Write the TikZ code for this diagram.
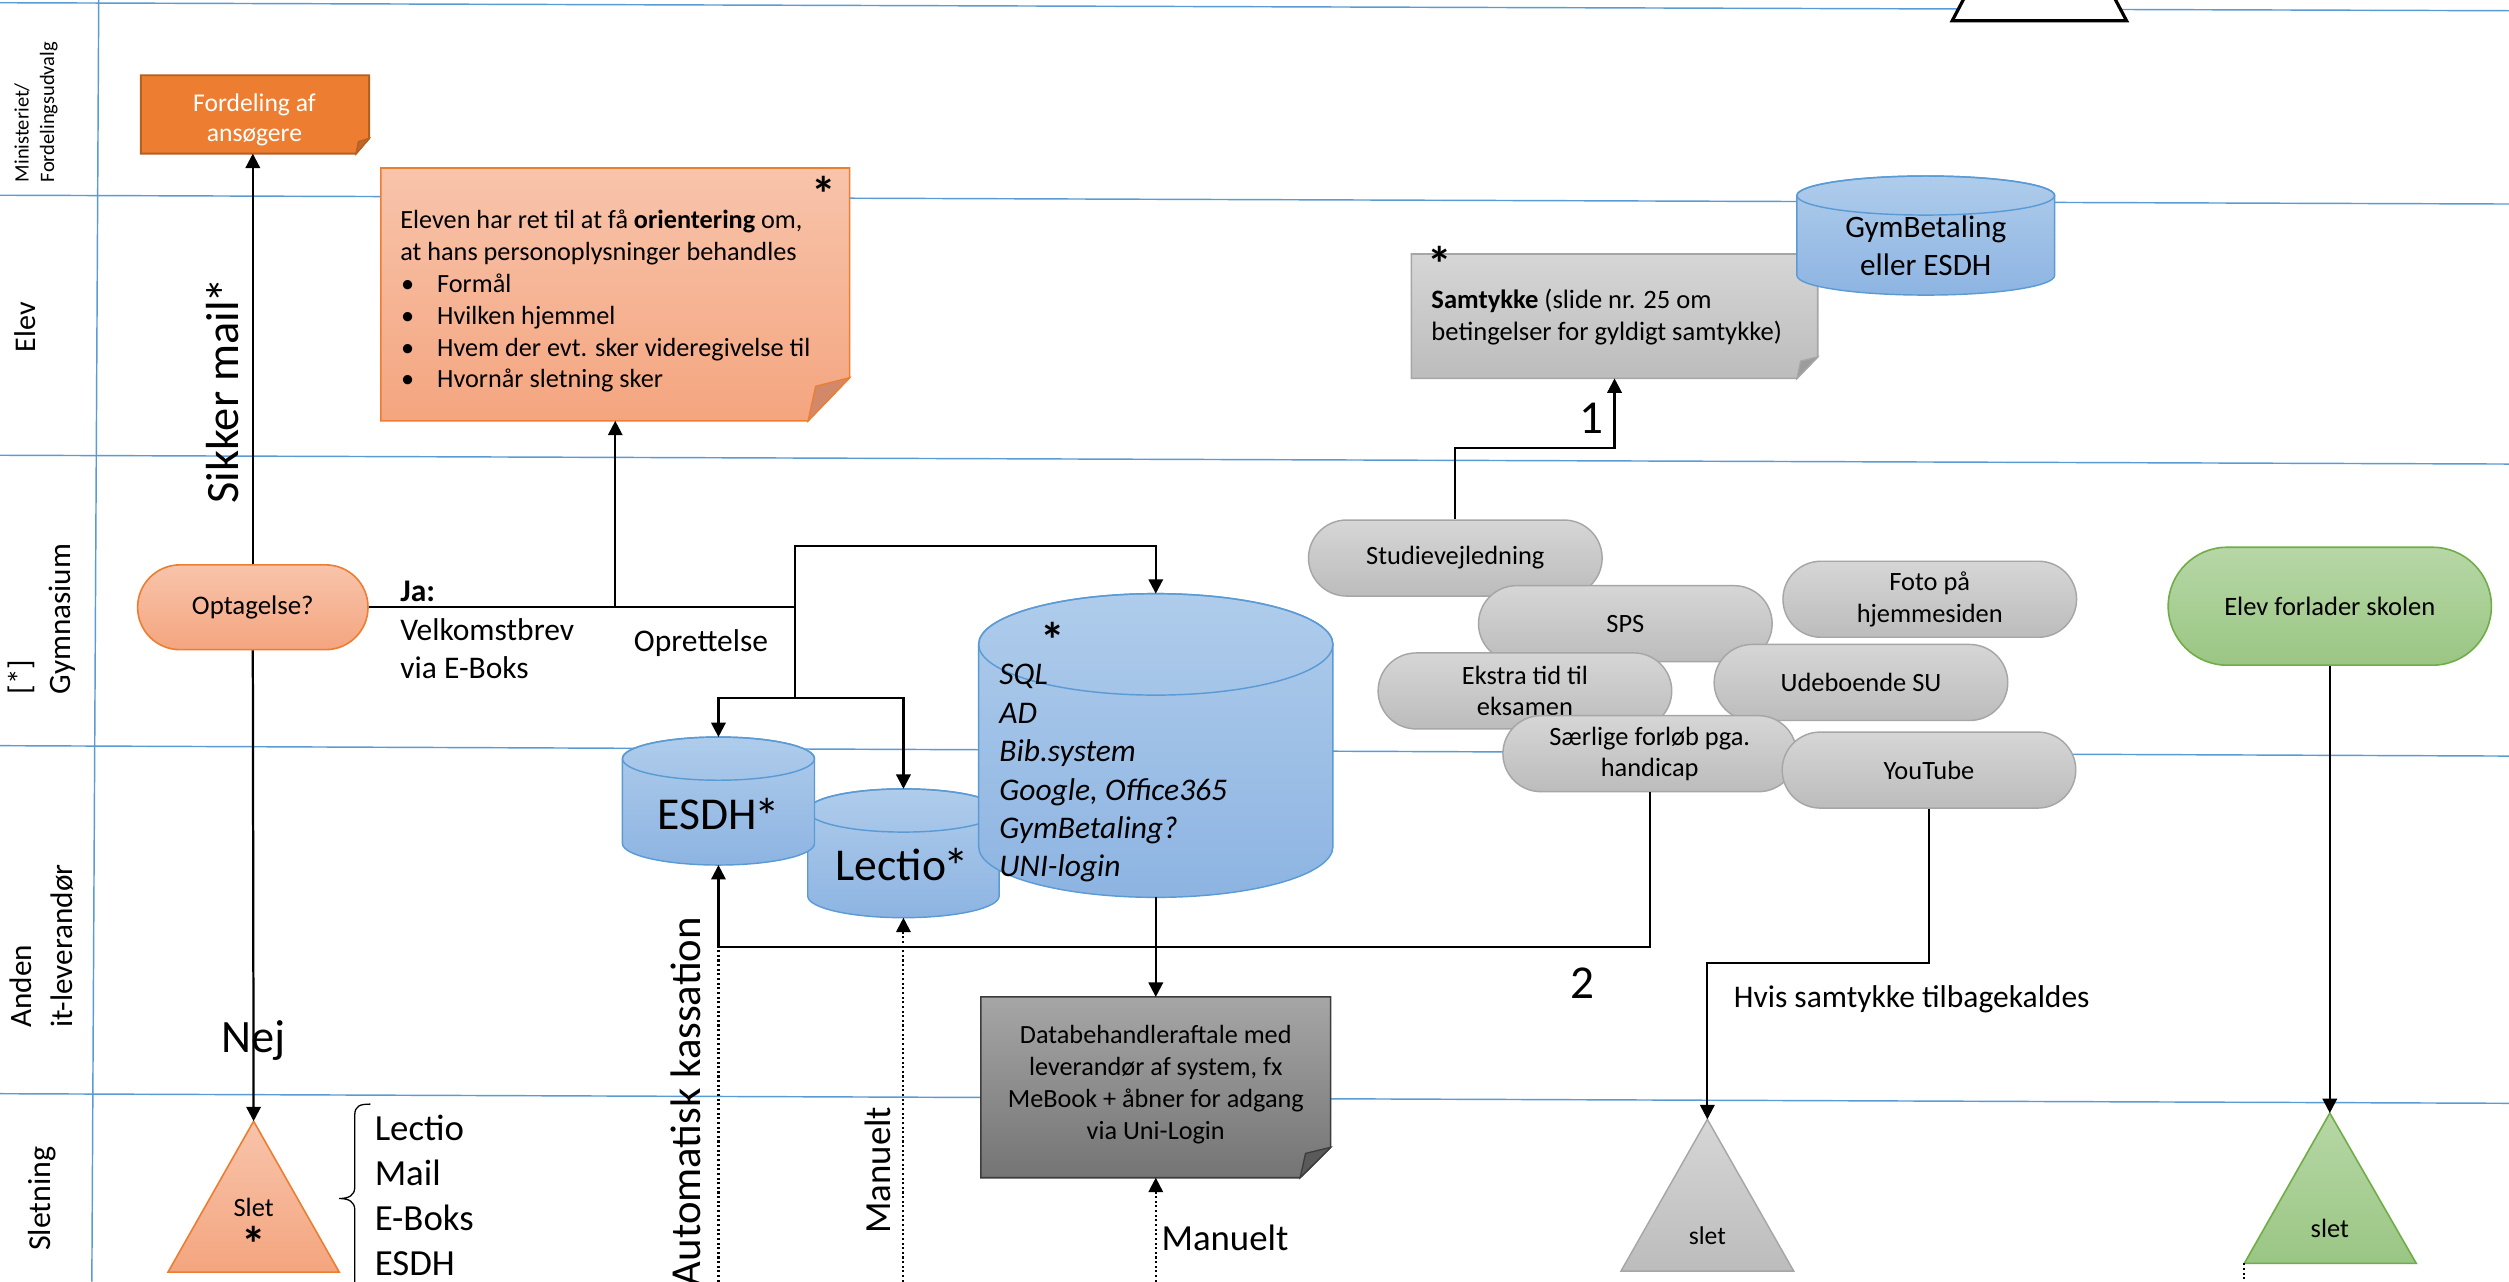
\documentclass[tikz,border=0pt]{standalone}
\usepackage{graphicx}
\usepackage{fontspec}
\setmainfont{Carlito}
\usetikzlibrary{arrows.meta,shapes.misc}
\definecolor{laneblue}{HTML}{5B9BD5}
\definecolor{orfill}{HTML}{ED7D31}
\definecolor{orborder}{HTML}{B4601F}
\definecolor{orfold}{HTML}{C0662A}
\definecolor{saltop}{HTML}{F8C4AB}
\definecolor{salbot}{HTML}{F4A57F}
\definecolor{salborder}{HTML}{ED7D31}
\definecolor{salfold}{HTML}{D2896A}
\definecolor{bltop}{HTML}{AFCCEB}
\definecolor{blbot}{HTML}{8DB4E2}
\definecolor{blborder}{HTML}{5B9BD5}
\definecolor{grtop}{HTML}{D6D6D6}
\definecolor{grbot}{HTML}{BCBCBC}
\definecolor{grborder}{HTML}{A6A6A6}
\definecolor{grfold}{HTML}{9C9C9C}
\definecolor{dbtop}{HTML}{A6A6A6}
\definecolor{dbbot}{HTML}{747474}
\definecolor{dbborder}{HTML}{3C3C3C}
\definecolor{dbfold}{HTML}{5A5A5A}
\definecolor{gntop}{HTML}{B7D7A6}
\definecolor{gnbot}{HTML}{9AC684}
\definecolor{gnborder}{HTML}{70AD47}
\newcommand{\bigast}{\kern-0.05em\raisebox{-0.1em}{\scalebox{1.12}{*}}}
\newcommand{\soloast}{\scalebox{1.4}{*}}
\tikzset{
  lane/.style={draw=laneblue, line width=0.9pt},
  conn/.style={draw=black, line width=1.4pt, -{Triangle[length=9pt,width=9pt]}},
  plainline/.style={draw=black, line width=1.4pt},
  dotconn/.style={draw=black, line width=1.3pt, dash pattern=on 1.3pt off 1.6pt, -{Triangle[length=9pt,width=9pt]}},
  dotline/.style={draw=black, line width=1.3pt, dash pattern=on 1.3pt off 1.6pt},
  tl/.style={inner sep=0, anchor=base west},
  tc/.style={inner sep=0, anchor=base},
  holder/.style={inner sep=0, outer sep=0},
  salmon/.style={top color=saltop, bottom color=salbot, draw=salborder, line width=1pt},
  greyish/.style={top color=grtop, bottom color=grbot, draw=grborder, line width=0.9pt},
  greenish/.style={top color=gntop, bottom color=gnbot, draw=gnborder, line width=1pt},
  cylfill/.style={top color=bltop, bottom color=blbot, draw=blborder, line width=0.9pt},
  cylline/.style={draw=blborder, line width=0.9pt},
  pill/.style={rounded rectangle, greyish, minimum width=183.5pt, minimum height=47.5pt, inner sep=0, align=center, font=\fontsize{16.5}{19.6}\selectfont},
  fa/.style={font=\fontsize{16.4}{20}\selectfont},
  fb/.style={font=\fontsize{19.7}{24}\selectfont},
  fbig/.style={font=\fontsize{29}{34}\selectfont},
  fstar/.style={font=\bfseries\fontsize{22}{22}\selectfont, inner sep=0},
}
\newcommand{\cyl}[5]{%
  \path[cylfill] (#1,#3+#5) -- (#1,#4-#5)
    arc[start angle=180,end angle=0,x radius={(#2-#1)/2},y radius=#5]
    -- (#2,#3+#5)
    arc[start angle=0,end angle=-180,x radius={(#2-#1)/2},y radius=#5] -- cycle;
  \draw[cylline] ({(#1+#2)/2},#3+#5) ellipse[x radius={(#2-#1)/2}, y radius=#5];
}
\begin{document}
\begin{tikzpicture}[x=1pt,y=-1pt]
\useasboundingbox (0,0) rectangle (1568,801);
\clip (0,0) rectangle (1568,801);
\fill[white] (0,0) rectangle (1568,801);

% swim lanes
\draw[lane] (0,1.7) -- (1568,6.7);
\draw[lane] (0,122) -- (1568,127.5);
\draw[lane] (0,284.5) -- (1568,290);
\draw[lane] (0,466) -- (1568,472.5);
\draw[lane] (0,683.5) -- (1568,689.5);
\draw[lane] (61.7,0) -- (57.4,801);

% lane labels
\node[rotate=90, anchor=west, align=left, inner sep=0, font=\fontsize{12.8}{16}\selectfont] (lminist) at (22.5,114) {Ministeriet/\\Fordelingsudvalg};
\node[rotate=90, inner sep=0, font=\fontsize{18.8}{22}\selectfont] (lelev) at (15.6,204.5) {Elev};
\node[rotate=90, anchor=west, align=left, inner sep=0, font=\fontsize{19.5}{25}\selectfont] (lgym) at (26,434) {[*]\\Gymnasium};
\node[rotate=90, anchor=west, align=left, inner sep=0, font=\fontsize{19.5}{26}\selectfont] (landen) at (26,642.5) {Anden\\it-leverandør};
\node[rotate=90, inner sep=0, font=\fontsize{20}{24}\selectfont] (lslet) at (26.5,749) {Sletning};

% top white triangle (cut off)
\coordinate (toptriL) at (1220,13);
\coordinate (toptriR) at (1329,13);
\coordinate (toptriA) at (1274.5,-90);
\path[fill=white, draw=black, line width=2pt] (toptriL) -- (toptriR) -- (toptriA) -- cycle;

% Fordeling af ansoegere
\node[holder, minimum width=142.7pt, minimum height=49pt] (fordeling) at (159.35,71.5) {};
\path[fill=orfill, draw=orborder, line width=1.2pt] (88,47) -- (230.7,47) -- (230.7,86.5) -- (222.5,96) -- (88,96) -- cycle;
\path[fill=orfold, draw=orborder, line width=0.8pt] (230.7,86.5) -- (222.5,96) -- (224,88.5) -- cycle;
\node[tc, text=white, font=\fontsize{16}{19}\selectfont] (fordt1) at (159,69.8) {Fordeling af};
\node[tc, text=white, font=\fontsize{16}{19}\selectfont] (fordt2) at (159,88.5) {ansøgere};

% Orange note
\node[holder, minimum width=293pt, minimum height=158pt] (note) at (384.5,184) {};
\path[salmon] (238,105) -- (531,105) -- (531,236) -- (505,263) -- (238,263) -- cycle;
\path[fill=salfold, draw=salborder, line width=0.8pt] (531,236) -- (505,263) -- (509.7,241.4) -- cycle;
\node[fstar] (notestar) at (515,121) {\soloast};
\node[tl, fa] (n1) at (250,142.6) {Eleven har ret til at få \textbf{orientering} om,};
\node[tl, fa] (n2) at (250,162.6) {at hans personoplysninger behandles};
\node[tl, fa] (n3b) at (250.5,182.6) {•};
\node[tl, fa] (n3) at (273,182.6) {Formål};
\node[tl, fa] (n4b) at (250.5,202.5) {•};
\node[tl, fa] (n4) at (273,202.5) {Hvilken hjemmel};
\node[tl, fa] (n5b) at (250.5,222.5) {•};
\node[tl, fa] (n5) at (273,222.5) {Hvem der evt. sker videregivelse til};
\node[tl, fa] (n6b) at (250.5,242.4) {•};
\node[tl, fa] (n6) at (273,242.4) {Hvornår sletning sker};

% Optagelse
\node[rounded rectangle, salmon, minimum width=144pt, minimum height=53pt, inner sep=0, font=\fontsize{16.8}{20}\selectfont] (optagelse) at (158,379.5) {Optagelse?};

% Slet triangle (salmon)
\coordinate (slet1apex) at (158.5,700.7);
\coordinate (slet1L) at (105,795);
\coordinate (slet1R) at (212,795);
\path[salmon] (slet1apex) -- (slet1R) -- (slet1L) -- cycle;
\node[inner sep=0, font=\fontsize{16.5}{20}\selectfont] (slet1t) at (158.5,754.7) {Slet};
\node[fstar] (slet1s) at (158.5,777.5) {\soloast};

% connectors left part
\draw[conn] (optagelse.north) -- (optagelse.north |- fordeling.south);
\node[rotate=90, anchor=base, inner sep=0, fbig] (sikker) at (149,244) {Sikker mail\bigast};
\draw[conn] (optagelse.south) -- (slet1apex);
\node[tc, fbig] (nej) at (158.5,657.6) {Nej};

% brace and list
\draw[line width=0.8pt] (231.5,690) .. controls (225,690) and (221.7,691) .. (221.7,697) -- (221.7,742) .. controls (221.7,747) and (218,749) .. (212,749) .. controls (218,749) and (221.7,751) .. (221.7,756) -- (221.7,805);
\node[tl, font=\fontsize{23}{28}\selectfont] (list1) at (234,713) {Lectio};
\node[tl, font=\fontsize{23}{28}\selectfont] (list2) at (234,741) {Mail};
\node[tl, font=\fontsize{23}{28}\selectfont] (list3) at (234,769) {E-Boks};
\node[tl, font=\fontsize{23}{28}\selectfont] (list4) at (234,797) {ESDH};

% Ja / Velkomstbrev / Oprettelse
\node[tl, font=\bfseries\fontsize{19.7}{24}\selectfont] (ja) at (250,375.8) {Ja:};
\node[tl, fb] (velk) at (250,400.4) {Velkomstbrev};
\node[tl, fb] (viaeb) at (250,424) {via E-Boks};
\node[tl, fb] (opret) at (396,407) {Oprettelse};

% cylinders
\cyl{504.8}{624.4}{493}{573.5}{13.5}
\node[holder, minimum width=119.6pt, minimum height=80.5pt] (lectio) at (564.6,533.25) {};
\node[tc, font=\fontsize{28.5}{34}\selectfont] (lectiot) at (564,550) {Lectio\bigast};
\cyl{389}{509}{460.6}{540.6}{13.5}
\node[holder, minimum width=120pt, minimum height=80pt] (esdh) at (449,500.6) {};
\node[tc, font=\fontsize{28.5}{34}\selectfont] (esdht) at (449,518.4) {ESDH\bigast};
\cyl{611.6}{833}{371}{560.8}{31.7}
\node[holder, minimum width=221.4pt, minimum height=189.8pt] (bigdb) at (722.3,465.9) {};
\node[fstar] (bigstar) at (658,400) {\soloast};
\node[tl, font=\itshape\fontsize{19.7}{24}\selectfont] (b1) at (624.4,428) {SQL};
\node[tl, font=\itshape\fontsize{19.7}{24}\selectfont] (b2) at (624.4,452) {AD};
\node[tl, font=\itshape\fontsize{19.7}{24}\selectfont] (b3) at (624.4,476) {Bib.system};
\node[tl, font=\itshape\fontsize{19.7}{24}\selectfont] (b4) at (624.4,500) {Google, Office365};
\node[tl, font=\itshape\fontsize{19.7}{24}\selectfont] (b5) at (624.4,524) {GymBetaling?};
\node[tl, font=\itshape\fontsize{19.7}{24}\selectfont] (b6) at (624.4,548) {UNI-login};

% connectors from Optagelse to the right
\coordinate (jB) at (497,379.5);
\coordinate (jC) at (497,436);
\coordinate (jTop) at (497,341);
\draw[plainline] (optagelse.east) -- (jB);
\draw[conn] (note.south |- optagelse.east) -- (note.south);
\draw[conn] (jC) -- (jTop) -| (bigdb.north);
\draw[conn] (jC) -| (esdh.north);
\draw[conn] (jC) -| (lectio.north);

% Databehandleraftale box
\node[holder, minimum width=218.6pt, minimum height=113pt] (dbbox) at (722.3,679.5) {};
\path[top color=dbtop, bottom color=dbbot, draw=dbborder, line width=1pt] (613,623) -- (831.6,623) -- (831.6,717) -- (812.5,736) -- (613,736) -- cycle;
\path[fill=dbfold, draw=dbborder, line width=0.8pt] (831.6,717) -- (812.5,736) -- (815.9,720.8) -- cycle;
\node[tc, fa] (d1) at (722.3,652) {Databehandleraftale med};
\node[tc, fa] (d2) at (722.3,672) {leverandør af system, fx};
\node[tc, fa] (d3) at (722.3,692.4) {MeBook + åbner for adgang};
\node[tc, fa] (d4) at (722.3,712.4) {via Uni-Login};

% Samtykke note
\node[holder, minimum width=254pt, minimum height=77.75pt] (samtykke) at (1009,197.6) {};
\path[top color=grtop, bottom color=grbot, draw=grborder, line width=1pt] (882,158.75) -- (1136,158.75) -- (1136,223) -- (1123,236.5) -- (882,236.5) -- cycle;
\path[fill=grfold, draw=grborder, line width=0.8pt] (1136,223) -- (1123,236.5) -- (1125.3,225.7) -- cycle;
\node[fstar] (samstar) at (900,165) {\soloast};
\node[tl, font=\fontsize{16.6}{20}\selectfont] (s1) at (894.4,192.7) {\textbf{Samtykke} (slide nr. 25 om};
\node[tl, font=\fontsize{16.6}{20}\selectfont] (s2) at (894.4,212.9) {betingelser for gyldigt samtykke)};

% GymBetaling cylinder
\cyl{1123}{1284}{110}{184.4}{12.2}
\node[holder, minimum width=161pt, minimum height=74.4pt] (gymbet) at (1203.5,147.2) {};
\node[tc, font=\fontsize{19.5}{23}\selectfont] (g1) at (1203.5,148.3) {GymBetaling};
\node[tc, font=\fontsize{19.5}{23}\selectfont] (g2) at (1203.5,171.9) {eller ESDH};

% pills
\node[pill] (studie) at (909.5,348.75) {Studievejledning};
\node[pill] (sps) at (1015.75,389.75) {SPS};
\node[pill] (foto) at (1206,374.5) {Foto på\\hjemmesiden};
\node[pill] (ekstra) at (953,431.8) {Ekstra tid til\\eksamen};
\node[pill] (udeb) at (1163,426.5) {Udeboende SU};
\node[pill] (saerlige) at (1031,471) {Særlige forløb pga.\\handicap};
\node[pill] (youtube) at (1205.5,481.25) {YouTube};

% connectors middle
\coordinate (jF) at (1009,280);
\draw[conn] (studie.north) |- (jF) -- (samtykke.south);
\node[inner sep=0, font=\fontsize{29.5}{34}\selectfont] (lab1) at (994.8,261.5) {1};
\coordinate (jE) at (449,591.7);
\draw[conn] (saerlige.south) |- (jE) -- (esdh.south);
\node[inner sep=0, font=\fontsize{29.5}{34}\selectfont] (lab2) at (989,614.5) {2};
\draw[conn] (bigdb.south) -- (dbbox.north);
\coordinate (botE) at (449,801);
\coordinate (botL) at (564.6,801);
\coordinate (botD) at (722.3,801);
\draw[dotline] (botE) -- (jE);
\draw[dotconn] (botL) -- (lectio.south);
\draw[dotconn] (botD) -- (dbbox.south);
\node[rotate=90, anchor=base east, inner sep=0, font=\fontsize{26.7}{30}\selectfont] (autokas) at (437.5,573) {Automatisk kassation};
\node[rotate=90, anchor=base, inner sep=0, font=\fontsize{23}{28}\selectfont] (manuelt1) at (556.8,731.3) {Manuelt};
\node[tl, font=\fontsize{23}{28}\selectfont] (manuelt2) at (725.7,781.5) {Manuelt};

% YouTube -> slet (grey)
\coordinate (slet2apex) at (1067,699.5);
\coordinate (slet2L) at (1013,794.4);
\coordinate (slet2R) at (1121,794.4);
\path[greyish] (slet2apex) -- (slet2R) -- (slet2L) -- cycle;
\node[inner sep=0, font=\fontsize{16}{20}\selectfont] (slet2t) at (1067,772) {slet};
\coordinate (jG) at (1067,602);
\draw[conn] (youtube.south) |- (jG) -- (slet2apex);
\node[tl, fb] (hvis) at (1083.4,629.4) {Hvis samtykke tilbagekaldes};

% Elev forlader skolen -> slet (green)
\node[rounded rectangle, greenish, minimum width=202pt, minimum height=73.7pt, inner sep=0, font=\fontsize{16.6}{20}\selectfont] (elevforl) at (1456,378.85) {Elev forlader skolen};
\coordinate (slet3apex) at (1456,695.6);
\coordinate (slet3L) at (1402.6,789.5);
\coordinate (slet3R) at (1510,789.5);
\path[greenish] (slet3apex) -- (slet3R) -- (slet3L) -- cycle;
\node[inner sep=0, font=\fontsize{16.5}{20}\selectfont] (slet3t) at (1456,767.5) {slet};
\draw[conn] (elevforl.south) -- (slet3apex);
\coordinate (gbot) at (1402.6,801);
\draw[dotline] (slet3L) -- (gbot);
\end{tikzpicture}
\end{document}
